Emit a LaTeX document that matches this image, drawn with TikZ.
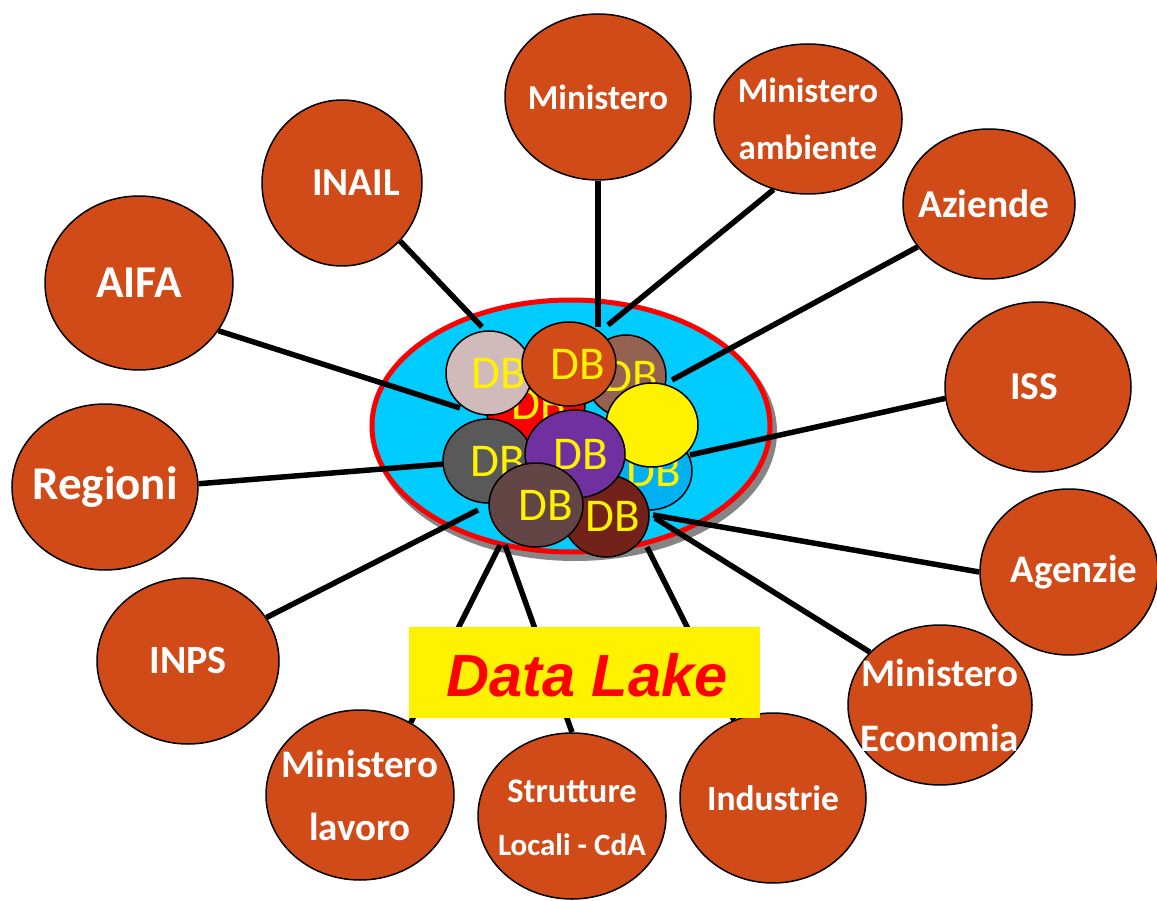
\documentclass[tikz,border=0pt]{standalone}
\usepackage{fontspec}
\setmainfont{Carlito}
\newfontfamily\arialfont{Liberation Sans}
\usetikzlibrary{shapes.geometric}
\definecolor{orgfill}{HTML}{D14B18}
\definecolor{lakefill}{HTML}{00CCFF}
\definecolor{dbpink}{HTML}{D1BABA}
\definecolor{dbbrown}{HTML}{956150}
\definecolor{dbcyan}{HTML}{00B0F0}
\definecolor{dbgray}{HTML}{595959}
\definecolor{dbpurple}{HTML}{7030A0}
\definecolor{dbmaroon}{HTML}{73221A}
\definecolor{dbbrgray}{HTML}{634545}
\definecolor{shadowgray}{HTML}{858585}
\begin{document}
\begin{tikzpicture}[x=1pt,y=-1pt,
  org/.style={ellipse, draw=black, line width=1.5pt, fill=orgfill, inner sep=0pt},
  orgtext/.style={text=white, align=center, inner sep=0pt},
  db/.style={ellipse, draw=black, line width=1.5pt, inner sep=0pt},
  dbtext/.style={text=yellow, inner sep=0pt, font=\fontsize{47}{47}\selectfont},
  conn/.style={line width=5.5pt, black}]
\useasboundingbox (0,0) rectangle (1157,901);
% lake
\node[ellipse, fill=shadowgray, minimum width=404pt, minimum height=258pt, inner sep=0pt] (lakeshadow) at (575,432) {};
\node[ellipse, draw=red, line width=5pt, fill=lakefill, minimum width=398pt, minimum height=252pt, inner sep=0pt] (lake) at (571,426) {};
% outer nodes
\node[org, minimum width=186pt, minimum height=166pt, label={[orgtext, font=\bfseries\fontsize{35}{40}\selectfont]center:Ministero}] (mini) at (598,97) {};
\node[org, minimum width=188pt, minimum height=150pt, label={[orgtext, font=\bfseries\fontsize{35}{57}\selectfont]center:Ministero\\ambiente}] (amb) at (808,119) {};
\node[org, minimum width=172pt, minimum height=150pt, label={[orgtext, font=\bfseries\fontsize{39.5}{40}\selectfont, xshift=-5pt]center:Aziende}] (azi) at (989,204) {};
\node[org, minimum width=160pt, minimum height=166pt, label={[orgtext, font=\bfseries\fontsize{39.5}{40}\selectfont, xshift=14pt]center:INAIL}] (inail) at (342,183) {};
\node[org, minimum width=188pt, minimum height=174pt, label={[orgtext, font=\bfseries\fontsize{45.5}{46}\selectfont]center:AIFA}] (aifa) at (139,283) {};
\node[org, minimum width=186pt, minimum height=170pt, label={[orgtext, font=\bfseries\fontsize{39.5}{40}\selectfont, xshift=-4pt]center:ISS}] (iss) at (1038,387) {};
\node[org, minimum width=186pt, minimum height=166pt, label={[orgtext, font=\bfseries\fontsize{47}{48}\selectfont]center:Regioni}] (reg) at (105,487) {};
\node[org, minimum width=178pt, minimum height=166pt, label={[orgtext, font=\bfseries\fontsize{39}{40}\selectfont, xshift=5pt]center:Agenzie}] (age) at (1069,572) {};
\node[org, minimum width=182pt, minimum height=166pt, label={[orgtext, font=\bfseries\fontsize{40}{41}\selectfont]center:INPS}] (inps) at (188,661) {};
\node[org, minimum width=184pt, minimum height=160pt, label={[orgtext, font=\bfseries\fontsize{39}{65}\selectfont]center:Ministero\\Economia}] (eco) at (940,705) {};
\node[org, minimum width=188pt, minimum height=170pt, label={[orgtext, font=\bfseries\fontsize{39}{63}\selectfont]center:Ministero\\lavoro}] (lav) at (360,795) {};
\node[org, minimum width=188pt, minimum height=166pt, label={[orgtext, font=\bfseries\fontsize{31}{53}\selectfont, yshift=-2pt]center:{\fontsize{34.5}{53}\selectfont Strutture}\\Locali - CdA}] (str) at (572,816) {};
\node[org, minimum width=186pt, minimum height=170pt, label={[orgtext, font=\bfseries\fontsize{35.5}{36}\selectfont]center:Industrie}] (ind) at (773,798) {};
% inner end points
\coordinate (iMin) at (598,327);
\coordinate (iAmb) at (608,325);
\coordinate (iAzi) at (672,380);
\coordinate (iInail) at (482,327);
\coordinate (iAifa) at (460,408);
\coordinate (iIss) at (690,455);
\coordinate (iReg) at (444,464);
\coordinate (iAge) at (653,515);
\coordinate (iEco) at (655,518);
\coordinate (iInps) at (478,510);
\coordinate (iInd) at (647,547);
\coordinate (iLav) at (500,545);
\coordinate (iStr) at (505,545);
% connectors
\draw[conn] (mini.south) -- (iMin);
\draw[conn] (amb.244) -- (iAmb);
\draw[conn] (azi.211) -- (iAzi);
\draw[conn] (inail.315) -- (iInail);
\draw[conn] (aifa.329) -- (iAifa);
\draw[conn] (iss.187) -- (iIss);
\draw[conn] (reg.2) -- (iReg);
\draw[conn] (age.180) -- (iAge);
\draw[conn] (eco.143) -- (iEco);
\draw[conn] (inps.29) -- (iInps);
\draw[conn] (ind) -- (iInd);
\draw[conn] (lav.55) -- (iLav);
\draw[conn] (str.north) -- (iStr);
% DB cluster
\node[db, fill=red, minimum width=100pt, minimum height=84pt, label={[dbtext, xshift=4pt]center:DB}] (dbred) at (535,404) {};
\node[db, fill=dbpink, minimum width=86pt, minimum height=84pt, label={[dbtext, xshift=10pt]center:DB}] (dbpink) at (489,373) {};
\node[db, fill=dbbrown, minimum width=80pt, minimum height=82pt, label={[dbtext, xshift=5pt]center:DB}] (dbbrown) at (626,376) {};
\node[db, fill=orgfill, minimum width=94pt, minimum height=84pt, label={[dbtext, xshift=9pt]center:DB}] (dborange) at (569,364) {};
\node[db, fill=dbcyan, minimum width=86pt, minimum height=78pt, label={[dbtext, xshift=5pt]center:DB}] (dbcyan) at (649,471) {};
\node[db, fill=yellow, minimum width=92pt, minimum height=84pt] (dbyellow) at (652,425) {};
\node[db, fill=dbgray, minimum width=90pt, minimum height=84pt, label={[dbtext, xshift=10pt]center:DB}] (dbgray) at (488,461) {};
\node[db, fill=dbmaroon, minimum width=86pt, minimum height=82pt, label={[dbtext, xshift=7pt]center:DB}] (dbmaroon) at (606,516) {};
\node[db, fill=dbpurple, minimum width=100pt, minimum height=88pt, label={[dbtext, xshift=6pt]center:DB}] (dbpurple) at (575,454) {};
\node[db, fill=dbbrgray, minimum width=94pt, minimum height=84pt, label={[dbtext, xshift=10pt]center:DB}] (dbbrgray) at (536,505) {};
% label box
\node[fill=yellow, minimum width=351pt, minimum height=91pt, inner sep=0pt] (box) at (584.5,672.5) {};
\node[text=red, font=\arialfont\bfseries\itshape\fontsize{59.5}{60}\selectfont, inner sep=0pt] (title) at (587,675) {Data Lake};
\end{tikzpicture}
\end{document}
